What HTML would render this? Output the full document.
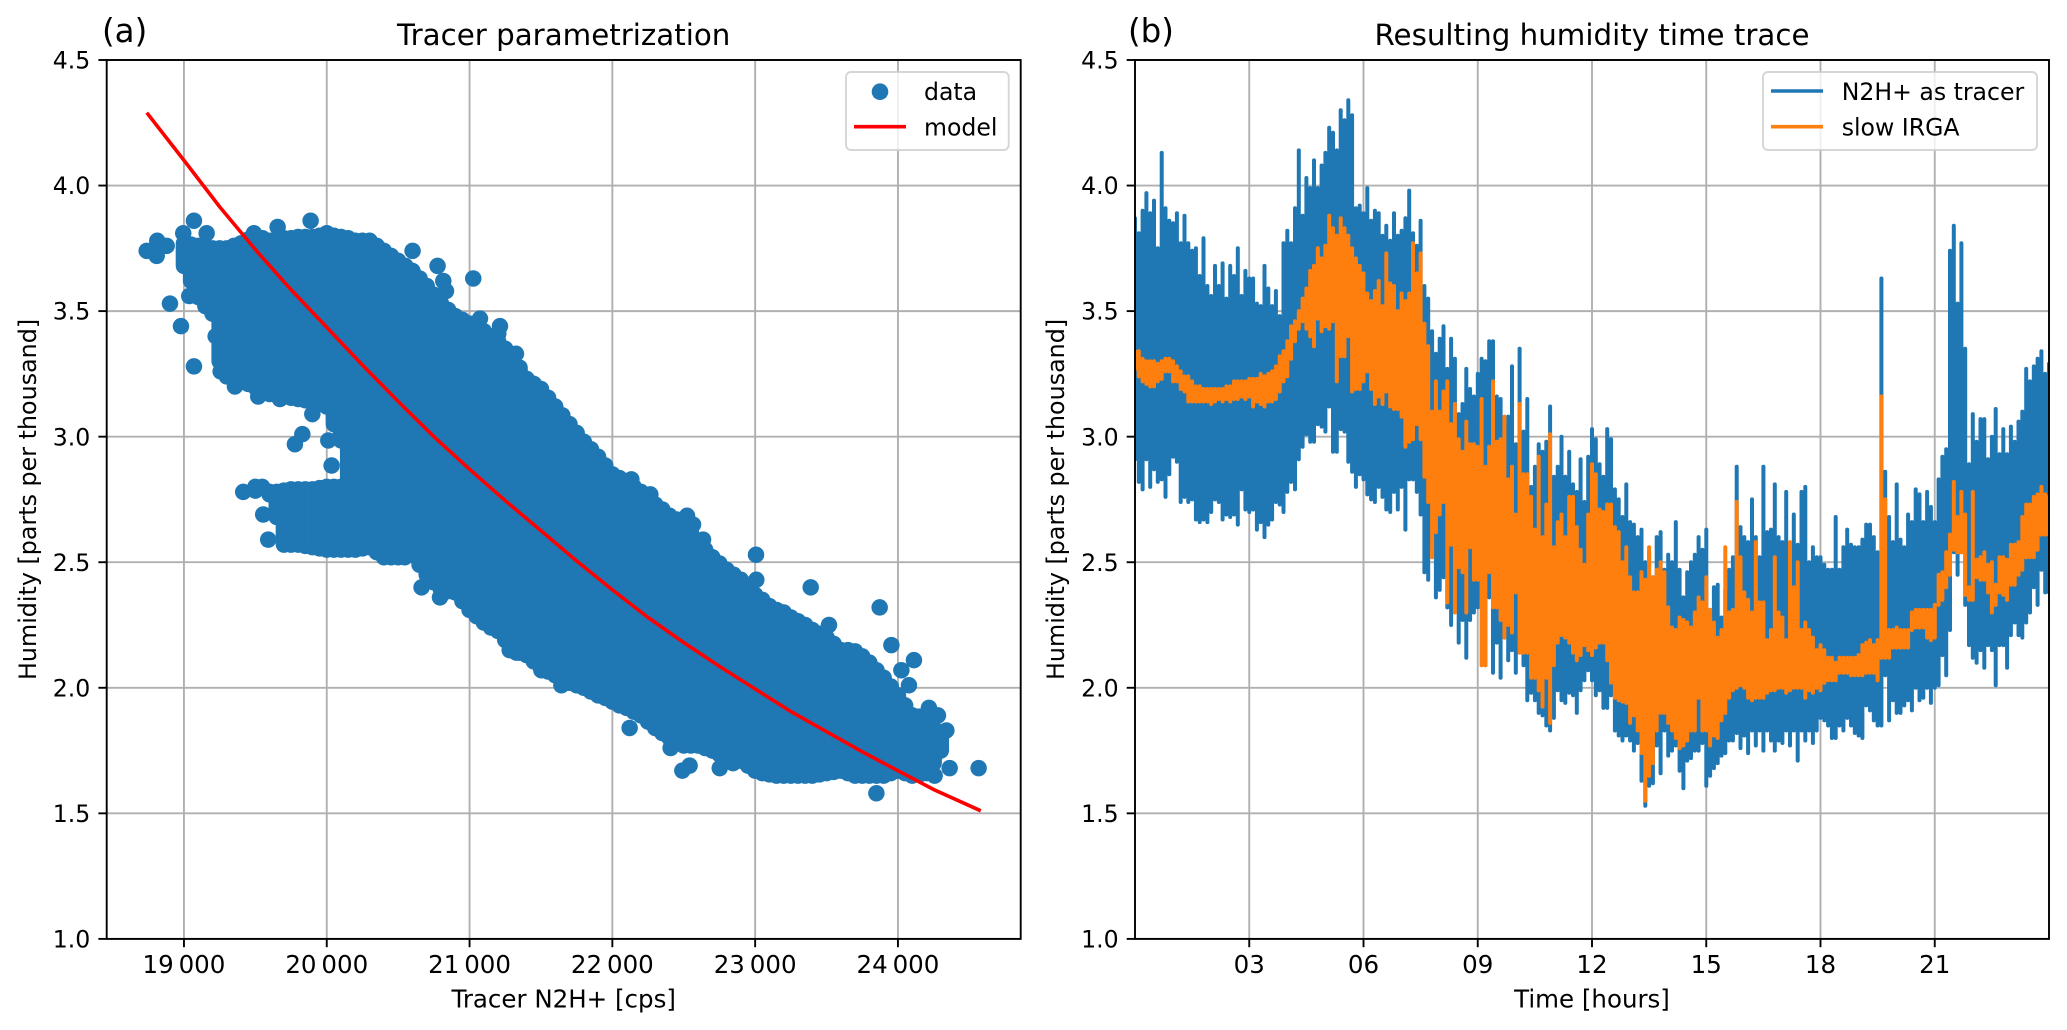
<!DOCTYPE html>
<html lang="en">
<head>
<meta charset="utf-8">
<title>Tracer parametrization and humidity time trace</title>
<style>
html,body{margin:0;padding:0;background:#fff;}
svg{display:block;font-family:"DejaVu Sans","Liberation Sans",sans-serif;fill:#000;}
</style>
</head>
<body>
<svg id="chart" xmlns="http://www.w3.org/2000/svg" width="2067" height="1030" viewBox="0 0 2067 1030">
  <defs>
    <clipPath id="clipA"><rect x="106.7" y="60" width="914" height="878.9"/></clipPath>
    <clipPath id="clipB"><rect x="1135" y="60" width="914" height="878.9"/></clipPath>
  </defs>
  <rect width="2067" height="1030" fill="#fff"/>

  <g>
    <g id="gridA"></g>
    <g id="marksA" clip-path="url(#clipA)"></g>
    <path id="modelLine" fill="none" stroke="#ff0000" stroke-width="3.6" clip-path="url(#clipA)"/>
    <rect x="106.7" y="60" width="914" height="878.9" fill="none" stroke="#000" stroke-width="1.9"/>
    <g id="ticksA" font-size="23.6"></g>
    <text x="102" y="42" font-size="32.5">(a)</text>
    <text x="563.7" y="45" font-size="29.3" text-anchor="middle">Tracer parametrization</text>
    <text x="563.7" y="1007.4" font-size="24.5" text-anchor="middle">Tracer N2H+ [cps]</text>
    <text transform="translate(36,499.4) rotate(-90)" font-size="23.8" text-anchor="middle">Humidity [parts per thousand]</text>
    <g>
      <rect x="846" y="72" width="162.7" height="78" rx="5" fill="#fff" fill-opacity="0.8" stroke="#cccccc" stroke-opacity="0.8" stroke-width="1.9"/>
      <circle cx="880" cy="91.7" r="8.3" fill="#1f77b4"/>
      <text x="924" y="100" font-size="23.6">data</text>
      <line x1="854" y1="126.7" x2="906" y2="126.7" stroke="#ff0000" stroke-width="3.6"/>
      <text x="924" y="135.4" font-size="23.6">model</text>
    </g>
  </g>

  <g>
    <g id="gridB"></g>
    <path id="tracerTrace" fill="none" stroke="#1f77b4" stroke-width="4" stroke-linecap="round" clip-path="url(#clipB)"/>
    <path id="irgaTrace" fill="none" stroke="#ff7f0e" stroke-width="4" stroke-linecap="round" clip-path="url(#clipB)"/>
    <rect x="1135" y="60" width="914" height="878.9" fill="none" stroke="#000" stroke-width="1.9"/>
    <g id="ticksB" font-size="23.6"></g>
    <text x="1128" y="42" font-size="32.5">(b)</text>
    <text x="1592" y="45" font-size="29.3" text-anchor="middle">Resulting humidity time trace</text>
    <text x="1592" y="1007.4" font-size="24.5" text-anchor="middle">Time [hours]</text>
    <text transform="translate(1064,499.4) rotate(-90)" font-size="23.8" text-anchor="middle">Humidity [parts per thousand]</text>
    <g>
      <rect x="1763" y="72" width="274" height="78" rx="5" fill="#fff" fill-opacity="0.8" stroke="#cccccc" stroke-opacity="0.8" stroke-width="1.9"/>
      <line x1="1771" y1="91" x2="1823" y2="91" stroke="#1f77b4" stroke-width="3.6"/>
      <text x="1841.7" y="100" font-size="23.6">N2H+ as tracer</text>
      <line x1="1771" y1="126.7" x2="1823" y2="126.7" stroke="#ff7f0e" stroke-width="3.6"/>
      <text x="1841.7" y="135.4" font-size="23.6">slow IRGA</text>
    </g>
  </g>
</svg>

<script>
// ---------- panel (a) data ----------
const humidityTicks = [1.0,1.5,2.0,2.5,3.0,3.5,4.0,4.5];
const humidityTickLabels = ["1.0","1.5","2.0","2.5","3.0","3.5","4.0","4.5"];
const cpsTicks = [19000,20000,21000,22000,23000,24000];
const cpsTickLabels = ["19\u2009000","20\u2009000","21\u2009000","22\u2009000","23\u2009000","24\u2009000"];

const modelCps = [18740,19000,19250,19500,19750,20000,20250,20500,20750,21000,21250,21500,21750,22000,22250,22500,22750,23000,23250,23500,23750,24000,24250,24580];
const modelHumidity = [4.29,4.10,3.915,3.745,3.585,3.435,3.285,3.14,3.00,2.87,2.745,2.625,2.505,2.39,2.28,2.18,2.085,1.995,1.905,1.825,1.745,1.67,1.595,1.51];

// dense scatter cloud: highest and lowest point centre seen per 100-cps column
const cloudCps = [19000,19100,19200,19300,19400,19500,19600,19700,19800,19900,20000,20100,20200,20300,20400,20500,20600,20700,20800,20900,21000,21100,21200,21300,21400,21500,21600,21700,21800,21900,22000,22100,22200,22300,22400,22500,22600,22700,22800,22900,23000,23100,23200,23300,23400,23500,23600,23700,23800,23900,24000,24100,24200,24300];
const cloudTop = [3.77,3.76,3.75,3.75,3.77,3.80,3.78,3.79,3.795,3.795,3.81,3.795,3.78,3.78,3.74,3.70,3.66,3.60,3.53,3.48,3.45,3.42,3.38,3.32,3.23,3.19,3.12,3.05,2.98,2.92,2.85,2.82,2.78,2.73,2.685,2.65,2.585,2.52,2.47,2.43,2.37,2.325,2.30,2.265,2.23,2.20,2.15,2.145,2.10,2.04,1.97,1.89,1.88,1.80];
const cloudBottom = [3.68,3.556,3.49,3.24,3.23,3.197,3.17,3.16,3.15,3.14,3.12,2.985,2.55,2.56,2.52,2.52,2.53,2.45,2.39,2.38,2.31,2.26,2.226,2.15,2.13,2.08,2.05,2.02,2.00,1.97,1.945,1.92,1.89,1.84,1.80,1.77,1.77,1.75,1.72,1.71,1.67,1.655,1.65,1.65,1.65,1.66,1.67,1.65,1.65,1.65,1.67,1.65,1.66,1.75];

// the same envelope read between those columns, which keeps the cloud's edge smooth
const cloudMidCps = [19050,19150,19250,19350,19450,19550,19650,19750,19850,19950,20050,20150,20250,20350,20450,20550,20650,20750,20850,20950,21050,21150,21250,21350,21450,21550,21650,21750,21850,21950,22050,22150,22250,22350,22450,22550,22650,22750,22850,22950,23050,23150,23250,23350,23450,23550,23650,23750,23850,23950,24050,24150,24250];
const cloudMidTop = [3.765,3.755,3.75,3.76,3.785,3.79,3.785,3.79,3.795,3.80,3.80,3.79,3.78,3.76,3.72,3.68,3.63,3.565,3.505,3.465,3.435,3.40,3.35,3.275,3.21,3.155,3.085,3.015,2.95,2.885,2.835,2.80,2.755,2.71,2.67,2.62,2.55,2.495,2.45,2.40,2.35,2.31,2.28,2.25,2.215,2.175,2.15,2.125,2.07,2.005,1.93,1.885,1.84];
const cloudMidBottom = [3.62,3.52,3.30,3.235,3.21,3.18,3.165,3.155,3.145,3.13,3.05,2.55,2.555,2.54,2.52,2.525,2.49,2.42,2.385,2.345,2.285,2.24,2.19,2.14,2.105,2.065,2.035,2.01,1.985,1.96,1.93,1.905,1.865,1.82,1.785,1.77,1.76,1.735,1.715,1.69,1.66,1.65,1.65,1.65,1.655,1.665,1.66,1.65,1.65,1.66,1.66,1.655,1.70];

// separated lower lobe of the scatter cloud
const lobeCps = [19500,19600,19650,19700,19750,19800,19850,19900,19950,20000,20050,20100];
const lobeTop = [2.80,2.78,2.78,2.785,2.79,2.79,2.79,2.79,2.795,2.80,2.80,2.80];
const lobeBottom = [2.785,2.77,2.68,2.57,2.57,2.57,2.565,2.56,2.555,2.55,2.55,2.55];

// individually visible scatter points
const outlierCps = [18739,18813,18809,18879,18995,19070,19159,18902,18979,19070,19037,19222,19257,19357,19520,19672,19899,19829,19777,20011,20034,19415,19555,19548,19590,19707,19656,19887,19490,20601,20776,20816,20835,21026,21073,21213,21201,21325,20547,20664,20793,22133,22266,22523,22565,22635,23006,23008,23389,23517,23872,23954,24112,24024,24077,24217,24280,24339,24246,24257,24362,24565,24257,23849,22121,22408,22541,22490,22752,22845,21281,21328,21503,21643];
const outlierHumidity = [3.74,3.78,3.72,3.76,3.81,3.86,3.81,3.53,3.44,3.28,3.56,3.40,3.26,3.20,3.16,3.15,3.09,3.01,2.97,2.985,2.885,2.78,2.69,2.80,2.59,2.67,3.835,3.86,3.81,3.74,3.68,3.62,3.58,3.63,3.47,3.44,3.41,3.33,2.52,2.40,2.36,2.83,2.77,2.685,2.65,2.59,2.53,2.43,2.40,2.25,2.32,2.17,2.11,2.07,2.01,1.92,1.89,1.83,1.78,1.73,1.68,1.68,1.65,1.58,1.84,1.76,1.69,1.67,1.68,1.70,2.15,2.14,2.07,2.01];

// ---------- panel (b) data ----------
const hourTicks = [3,6,9,12,15,18,21];
const hourTickLabels = ["03","06","09","12","15","18","21"];
const sampleStepHours = 0.1;

const tracerHigh = [
3.87,3.81,3.90,3.97,3.89,3.94,3.75,4.13,3.91,3.86,
3.85,3.89,3.77,3.88,3.77,3.74,3.75,3.64,3.79,3.60,
3.56,3.68,3.60,3.69,3.55,3.68,3.64,3.75,3.56,3.66,
3.63,3.63,3.53,3.52,3.68,3.59,3.52,3.58,3.48,3.77,
3.82,3.77,3.91,4.14,3.88,4.03,3.99,4.10,3.99,4.08,
4.13,4.23,4.21,4.14,4.30,4.26,4.34,4.28,3.91,3.92,
3.89,3.99,3.86,3.90,3.89,3.80,3.84,3.78,3.89,3.80,
3.82,3.87,3.98,3.81,3.76,3.86,3.60,3.55,3.42,3.33,
3.39,3.44,3.27,3.39,3.31,3.09,3.13,3.27,3.19,3.16,
3.25,3.31,3.30,3.38,3.38,3.16,3.15,3.05,3.08,3.28,
2.97,3.35,3.02,3.15,2.80,2.88,2.97,2.94,2.98,3.12,
2.84,2.88,3.00,2.84,2.94,2.81,2.78,2.91,2.74,2.92,
3.03,2.99,2.89,2.84,3.03,2.99,2.79,2.75,2.68,2.81,
2.66,2.65,2.60,2.63,2.50,2.54,2.44,2.60,2.62,2.47,
2.53,2.50,2.66,2.47,2.36,2.46,2.50,2.53,2.60,2.55,
2.63,2.31,2.40,2.41,2.28,2.39,2.47,2.52,2.88,2.64,
2.60,2.58,2.75,2.60,2.52,2.88,2.62,2.63,2.81,2.60,
2.58,2.78,2.57,2.69,2.57,2.78,2.80,2.50,2.56,2.52,
2.52,2.49,2.47,2.47,2.68,2.47,2.56,2.63,2.57,2.56,
2.56,2.59,2.65,2.65,2.60,2.54,3.63,2.86,2.68,2.58,
2.81,2.59,2.56,2.69,2.66,2.79,2.77,2.66,2.78,2.72,
2.66,2.83,2.92,2.95,3.74,3.84,3.53,3.77,3.35,2.89,
3.09,2.98,3.07,3.07,2.91,3.00,3.11,2.93,3.03,2.93,
3.04,2.98,3.06,3.10,3.27,3.22,3.28,3.31,3.34,3.25,
3.29];

const tracerLow = [
2.91,2.82,2.79,2.91,2.80,2.87,2.82,2.83,2.76,2.85,
2.92,2.90,2.74,2.76,2.74,2.75,2.67,2.66,2.67,2.66,
2.70,2.75,2.74,2.67,2.69,2.68,2.69,2.65,2.79,2.71,
2.70,2.71,2.63,2.66,2.60,2.65,2.67,2.74,2.73,2.70,
2.78,2.82,2.79,2.91,2.96,3.01,2.98,2.98,3.05,3.04,
3.02,3.12,2.94,2.94,3.03,3.02,2.90,2.86,2.80,2.85,
2.83,2.77,2.75,2.74,2.80,2.76,2.71,2.70,2.78,2.71,
2.80,2.63,2.83,2.83,2.78,2.69,2.46,2.43,2.55,2.36,
2.39,2.44,2.32,2.25,2.31,2.18,2.27,2.12,2.27,2.30,
2.32,2.36,2.09,2.36,2.06,2.18,2.04,2.20,2.11,2.15,
2.06,2.14,2.09,1.95,1.98,1.95,1.90,1.89,1.85,1.83,
1.88,1.99,1.95,1.94,1.98,1.97,1.90,1.99,2.03,2.07,
2.03,1.97,1.99,1.92,1.92,1.97,1.83,1.81,1.79,1.81,
1.79,1.75,1.78,1.63,1.53,1.61,1.62,1.77,1.66,1.83,
1.73,1.75,1.77,1.67,1.60,1.71,1.72,1.75,1.75,1.78,
1.61,1.65,1.68,1.70,1.73,1.74,1.79,1.79,1.82,1.76,
1.81,1.74,1.83,1.77,1.83,1.75,1.83,1.79,1.75,1.79,
1.78,1.83,1.77,1.83,1.71,1.83,1.79,1.83,1.78,1.83,
1.88,1.87,1.85,1.80,1.80,1.85,1.83,1.88,1.85,1.82,
1.81,1.80,1.93,1.91,1.87,1.85,1.85,2.05,1.87,1.95,
1.90,1.90,1.93,1.95,1.91,2.00,1.95,1.96,2.00,1.94,
2.00,2.01,2.13,2.05,2.23,2.54,2.45,2.54,2.33,2.17,
2.12,2.10,2.15,2.08,2.17,2.15,2.01,2.17,2.17,2.08,
2.21,2.26,2.21,2.20,2.26,2.30,2.40,2.33,2.47,2.38,
2.38];

const irgaHigh = [
3.34,3.34,3.31,3.30,3.30,3.30,3.29,3.30,3.31,3.31,
3.30,3.28,3.26,3.24,3.24,3.22,3.20,3.20,3.19,3.19,
3.19,3.19,3.19,3.19,3.20,3.20,3.22,3.22,3.22,3.22,
3.23,3.23,3.23,3.25,3.24,3.25,3.26,3.28,3.32,3.34,
3.38,3.44,3.46,3.50,3.55,3.59,3.66,3.68,3.75,3.71,
3.76,3.88,3.83,3.80,3.87,3.83,3.80,3.75,3.71,3.68,
3.65,3.57,3.54,3.58,3.62,3.52,3.73,3.61,3.60,3.50,
3.57,3.54,3.57,3.77,3.65,3.73,3.45,3.36,3.10,3.22,
3.10,3.18,3.22,3.05,3.13,2.99,2.94,3.06,2.97,2.97,
2.96,3.15,2.88,2.96,3.22,2.98,2.99,3.08,2.83,2.88,
2.69,3.13,2.85,2.85,2.76,2.63,2.92,2.60,2.73,3.01,
2.56,2.66,2.69,2.60,2.76,2.76,2.64,2.55,2.49,2.69,
2.89,2.85,2.71,2.70,2.73,2.73,2.64,2.62,2.50,2.56,
2.44,2.38,2.38,2.46,2.43,2.56,2.44,2.47,2.50,2.46,
2.32,2.24,2.23,2.28,2.27,2.26,2.24,2.30,2.36,2.34,
2.44,2.31,2.26,2.20,2.23,2.56,2.30,2.31,2.74,2.52,
2.38,2.35,2.30,2.58,2.34,2.34,2.19,2.23,2.52,2.30,
2.28,2.19,2.58,2.40,2.50,2.23,2.26,2.23,2.20,2.15,
2.17,2.15,2.12,2.12,2.10,2.12,2.12,2.12,2.12,2.12,
2.13,2.17,2.18,2.19,2.17,2.19,3.16,2.75,2.23,2.23,
2.24,2.23,2.23,2.23,2.30,2.31,2.31,2.31,2.31,2.31,
2.33,2.45,2.46,2.54,2.61,2.82,2.68,2.78,2.69,2.40,
2.78,2.51,2.52,2.54,2.49,2.50,2.41,2.52,2.52,2.51,
2.57,2.57,2.58,2.68,2.73,2.73,2.76,2.77,2.80,2.77,
2.76];

const irgaLow = [
3.27,3.24,3.22,3.21,3.20,3.20,3.22,3.23,3.26,3.26,
3.22,3.22,3.19,3.18,3.14,3.14,3.14,3.14,3.14,3.14,
3.13,3.14,3.15,3.14,3.15,3.14,3.15,3.15,3.16,3.15,
3.16,3.12,3.14,3.13,3.12,3.14,3.14,3.15,3.18,3.22,
3.24,3.31,3.38,3.43,3.46,3.43,3.40,3.36,3.47,3.42,
3.44,3.43,3.46,3.22,3.32,3.32,3.40,3.18,3.19,3.19,
3.22,3.26,3.19,3.13,3.16,3.13,3.18,3.12,3.11,3.11,
3.08,2.96,2.98,2.99,3.05,2.99,2.84,2.74,2.52,2.62,
2.69,2.74,2.34,2.57,2.30,2.48,2.46,2.30,2.56,2.43,
2.43,2.09,2.09,2.46,2.32,2.32,2.27,2.20,2.25,2.22,
2.38,2.14,2.14,2.14,2.04,2.04,1.99,1.925,2.04,1.86,
2.09,2.18,2.21,2.20,2.18,2.14,2.11,2.13,2.17,2.15,
2.13,2.16,2.18,2.18,2.11,2.02,1.96,1.95,1.945,1.94,
1.86,1.89,1.83,1.74,1.55,1.65,1.70,1.83,1.90,1.90,
1.86,1.83,1.80,1.76,1.77,1.79,1.83,1.83,1.96,1.83,
1.83,1.77,1.81,1.80,1.87,1.90,1.96,1.99,2.00,2.01,
2.00,1.96,1.95,1.96,1.96,1.96,1.98,1.99,1.99,2.00,
2.00,1.98,1.99,2.00,2.00,2.00,1.96,1.99,1.98,2.00,
1.99,2.02,2.03,2.03,2.03,2.06,2.06,2.06,2.05,2.05,
2.05,2.05,2.06,2.06,2.06,2.03,2.12,2.12,2.12,2.16,
2.16,2.16,2.16,2.16,2.23,2.24,2.24,2.24,2.20,2.19,
2.20,2.33,2.35,2.40,2.45,2.55,2.54,2.54,2.37,2.35,
2.35,2.44,2.43,2.43,2.38,2.30,2.33,2.38,2.37,2.35,
2.41,2.41,2.45,2.47,2.52,2.52,2.52,2.55,2.61,2.61,
2.61];

// ---------- axis functions ----------
const SVG_NS = "http://www.w3.org/2000/svg";
const plotTop = 60;
const plotBottom = 938.9;
function cpsToX(v){ return 106.7 + (v - 18459) * (914 / 6400.6); }
function humidityToY(v){ return plotBottom - (v - 1) * ((plotBottom - plotTop) / 3.5); }
function hoursToX(v){ return 1135 + v * (914 / 24); }

function make(tag, attrs, parent){
  const el = document.createElementNS(SVG_NS, tag);
  for (const k in attrs) el.setAttribute(k, attrs[k]);
  parent.appendChild(el);
  return el;
}

function drawAxes(gridId, ticksId, toX, xTicks, xLabels, left, right){
  const grid = document.getElementById(gridId);
  const ticks = document.getElementById(ticksId);
  xTicks.forEach(function(tv, i){
    const x = toX(tv);
    const g = make("line", {x1:x, x2:x, y1:plotTop, y2:plotBottom, stroke:"#b0b0b0", "stroke-width":1.9}, grid);
    
    
    const t = make("line", {x1:x, x2:x, y1:plotBottom, y2:plotBottom + 8.3, stroke:"#000", "stroke-width":1.9}, ticks);
    
    
    const l = make("text", {x:x, y:plotBottom + 34, "text-anchor":"middle", "font-size":24.5}, ticks);
    l.textContent = xLabels[i];
    
    
  });
  humidityTicks.forEach(function(tv, i){
    const y = humidityToY(tv);
    const g = make("line", {x1:left, x2:right, y1:y, y2:y, stroke:"#b0b0b0", "stroke-width":1.9}, grid);
    
    
    const t = make("line", {x1:left - 8.3, x2:left, y1:y, y2:y, stroke:"#000", "stroke-width":1.9}, ticks);
    
    
    const l = make("text", {x:left - 16.4, y:y + 8.6, "text-anchor":"end"}, ticks);
    l.textContent = humidityTickLabels[i];
    
    
  });
}

drawAxes("gridA", "ticksA", cpsToX, cpsTicks, cpsTickLabels, 106.7, 1020.7);
drawAxes("gridB", "ticksB", hoursToX, hourTicks, hourTickLabels, 1135, 2049);

// ---------- panel (a) marks ----------
const marksA = document.getElementById("marksA");
function drawCloud(cps, top, bottom, name){
  cps.forEach(function(c, i){
    const x = cpsToX(c);
    const col = make("line", {x1:x, x2:x, y1:humidityToY(top[i]), y2:humidityToY(bottom[i]), stroke:"#1f77b4", "stroke-width":16.5, "stroke-linecap":"round"}, marksA);
    
    
  });
}
drawCloud(cloudCps, cloudTop, cloudBottom, 'scatter-cloud-column');
drawCloud(cloudMidCps, cloudMidTop, cloudMidBottom, 'scatter-cloud-column');
drawCloud(lobeCps, lobeTop, lobeBottom, 'scatter-lobe-column');
outlierCps.forEach(function(c, i){
  const dot = make("circle", {cx:cpsToX(c), cy:humidityToY(outlierHumidity[i]), r:8.25, fill:"#1f77b4"}, marksA);
  
  
});
document.getElementById("modelLine").setAttribute("d", modelCps.map(function(c, i){
  return (i ? "L" : "M") + cpsToX(c).toFixed(1) + " " + humidityToY(modelHumidity[i]).toFixed(1);
}).join(""));

// ---------- panel (b) marks ----------
function tracePath(high, low){
  let d = "";
  high.forEach(function(h, i){
    const x = hoursToX(i * sampleStepHours).toFixed(1);
    d += "M" + x + " " + humidityToY(h).toFixed(1) + "L" + x + " " + humidityToY(low[i]).toFixed(1);
  });
  return d;
}
document.getElementById("tracerTrace").setAttribute("d", tracePath(tracerHigh, tracerLow));
document.getElementById("irgaTrace").setAttribute("d", tracePath(irgaHigh, irgaLow));
</script>
</body>
</html>
